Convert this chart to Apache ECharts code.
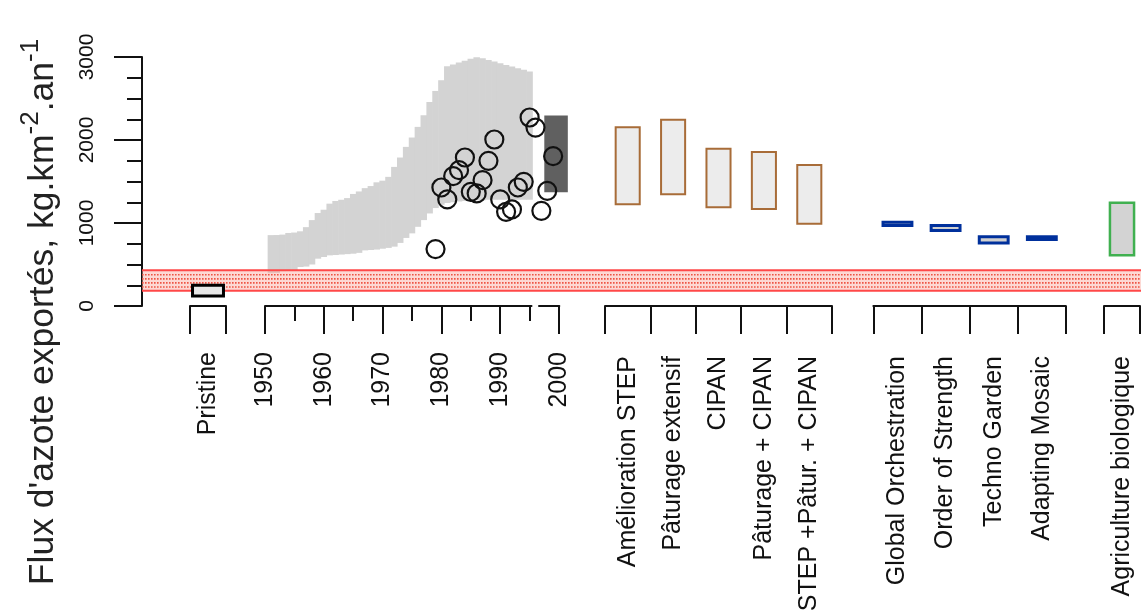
<!DOCTYPE html>
<html>
<head>
<meta charset="utf-8">
<script src="https://cdn.jsdelivr.net/npm/echarts@6/dist/echarts.min.js"></script>
<style>
  html, body { margin: 0; padding: 0; background: #ffffff; }
  #chart { width: 1141px; height: 615px; }
</style>
</head>
<body>
<div id="chart"></div>
<script>
// Nitrogen export fluxes (kg N / km2 / yr): pristine state, 1950-2000 reconstruction,
// management scenarios, MEA scenarios and organic farming.

const yTickValues = [0, 1000, 2000, 3000];

const pristineLabels = ['Pristine'];
const pristineLow = [120];
const pristineHigh = [250];

// reference band drawn across the whole plot
const bandLow = 185;
const bandHigh = 430;

// yearly envelope of the reconstructed fluxes
const historyYears = [1951, 1952, 1953, 1954, 1955, 1956, 1957, 1958, 1959, 1960,
  1961, 1962, 1963, 1964, 1965, 1966, 1967, 1968, 1969, 1970,
  1971, 1972, 1973, 1974, 1975, 1976, 1977, 1978, 1979, 1980,
  1981, 1982, 1983, 1984, 1985, 1986, 1987, 1988, 1989, 1990,
  1991, 1992, 1993, 1994, 1995];
const historyLow = [395, 398, 420, 425, 430, 470, 475, 500, 570, 590,
  610, 614, 620, 625, 630, 640, 670, 675, 680, 690,
  700, 715, 760, 820, 875, 954, 1035, 1115, 1180, 1220,
  1240, 1250, 1260, 1265, 1270, 1275, 1275, 1280, 1280, 1280,
  1280, 1280, 1280, 1280, 1280];
const historyHigh = [854, 855, 860, 880, 885, 900, 950, 1035, 1120, 1160,
  1233, 1265, 1280, 1300, 1350, 1380, 1420, 1445, 1490, 1510,
  1556, 1676, 1789, 1917, 2030, 2158, 2298, 2458, 2591, 2720,
  2888, 2910, 2935, 2955, 2978, 2998, 2985, 2965, 2945, 2925,
  2905, 2885, 2865, 2845, 2825];

// measured yearly fluxes
const obsYears = [1979, 1980, 1981, 1982, 1983, 1984, 1985, 1986, 1987, 1988,
  1989, 1990, 1991, 1992, 1993, 1994, 1995, 1996, 1997, 1998, 1999];
const obsValues = [686, 1428, 1284, 1564, 1637, 1789, 1376, 1356, 1516, 1749,
  2006, 1284, 1135, 1163, 1428, 1496, 2271, 2150, 1147, 1388, 1805];

// range around the year 2000
const year2000Low = 1370;
const year2000High = 2295;

const historyTickYears = [1950, 1960, 1970, 1980, 1990, 2000];

const managementLabels = ['Amélioration STEP', 'Pâturage extensif', 'CIPAN',
  'Pâturage + CIPAN', 'STEP +Pâtur. + CIPAN'];
const managementLow = [1225, 1345, 1190, 1170, 990];
const managementHigh = [2155, 2245, 1895, 1855, 1700];

const meaLabels = ['Global Orchestration', 'Order of Strength', 'Techno Garden', 'Adapting Mosaic'];
const meaLow = [970, 910, 760, 800];
const meaHigh = [1010, 970, 835, 835];

const organicLabels = ['Agriculture biologique'];
const organicLow = [610];
const organicHigh = [1245];

const FONT = '"Liberation Sans", Arial, sans-serif';
const INK = '#111111';
const TOP = 57;
const H = 249;
const LABEL_SIZE = 25;

const chart = echarts.init(document.getElementById('chart'), null, { renderer: 'canvas' });

function grid(left, width) {
  return { left: left, width: width, top: TOP, height: H, containLabel: false };
}

function hiddenY(gridIndex) {
  return { type: 'value', gridIndex: gridIndex, min: 0, max: 3000, show: false };
}

function categoryX(gridIndex, labels, margin) {
  return {
    type: 'category', gridIndex: gridIndex, data: labels, boundaryGap: true,
    axisLine: { show: true, lineStyle: { color: INK, width: 2 } },
    axisTick: { show: true, length: 28, interval: 0, lineStyle: { color: INK, width: 2 } },
    axisLabel: { show: true, rotate: 90, interval: 0, margin: margin, fontSize: LABEL_SIZE,
      fontFamily: FONT, color: INK },
    splitLine: { show: false }
  };
}

function boxSeries(xi, yi, lows, highs, ratio, stroke, fill, lineWidth, z) {
  return {
    type: 'custom', xAxisIndex: xi, yAxisIndex: yi, z: z, clip: false, silent: true,
    data: lows.map(function (lo, i) { return [i, lo, highs[i]]; }),
    encode: { x: 0, y: [1, 2] },
    renderItem: function (params, api) {
      const i = api.value(0);
      const p1 = api.coord([i, api.value(2)]);
      const p0 = api.coord([i, api.value(1)]);
      const w = api.size([1, 0])[0] * ratio;
      return {
        type: 'rect',
        shape: { x: p1[0] - w / 2, y: p1[1], width: w, height: p0[1] - p1[1] },
        style: { fill: fill, stroke: stroke, lineWidth: lineWidth }
      };
    }
  };
}

const option = {
  animation: false,
  backgroundColor: '#ffffff',
  grid: [
    grid(142, 999),        // 0 main plot, y axis and band
    grid(190, 36),         // 1 pristine
    grid(265, 294),        // 2 history 1950-2000
    grid(265, 266.5),      // 3 history axis line, first part
    grid(539, 20.3),       // 4 history axis line, last part
    grid(605, 227),        // 5 management scenarios
    grid(873.4, 192.5),    // 6 MEA scenarios
    grid(1104, 36)         // 7 organic farming
  ],
  yAxis: [
    {
      type: 'value', gridIndex: 0, min: 0, max: 3000, interval: 1000,
      axisLine: { show: true, lineStyle: { color: INK, width: 2 } },
      axisTick: { show: true, length: 28, lineStyle: { color: INK, width: 2 } },
      minorTick: { show: true, splitNumber: 4, length: 15, lineStyle: { color: INK, width: 2 } },
      axisLabel: { show: true, rotate: 90, margin: 44, fontSize: 21, fontFamily: FONT, color: INK,
        formatter: function (v) { return yTickValues.indexOf(v) >= 0 ? String(v) : ''; } },
      splitLine: { show: false }
    },
    hiddenY(1), hiddenY(2), hiddenY(3), hiddenY(4), hiddenY(5), hiddenY(6), hiddenY(7)
  ],
  xAxis: [
    { type: 'value', gridIndex: 0, min: 0, max: 1, show: false },
    categoryX(1, pristineLabels, 46),
    {
      type: 'value', gridIndex: 2, min: historyTickYears[0], max: historyTickYears[historyTickYears.length - 1],
      interval: 10,
      axisLine: { show: false },
      axisTick: { show: true, length: 28, lineStyle: { color: INK, width: 2 } },
      minorTick: { show: true, splitNumber: 2, length: 15, lineStyle: { color: INK, width: 2 } },
      axisLabel: { show: true, rotate: 90, margin: 46, fontSize: LABEL_SIZE, fontFamily: FONT, color: INK,
        formatter: function (v) { return String(v); } },
      splitLine: { show: false }
    },
    { type: 'value', gridIndex: 3, min: 0, max: 1, axisLine: { show: true, lineStyle: { color: INK, width: 2 } },
      axisTick: { show: false }, axisLabel: { show: false }, splitLine: { show: false } },
    { type: 'value', gridIndex: 4, min: 0, max: 1, axisLine: { show: true, lineStyle: { color: INK, width: 2 } },
      axisTick: { show: false }, axisLabel: { show: false }, splitLine: { show: false } },
    categoryX(5, managementLabels, 50),
    categoryX(6, meaLabels, 50),
    categoryX(7, organicLabels, 50)
  ],
  graphic: [{
    type: 'text', x: 43, y: 312, rotation: Math.PI / 2, silent: true,
    style: {
      text: "Flux d'azote exportés, kg.km{sup|-2}.an{sup|-1}",
      fontSize: 35.5, fontFamily: FONT, fill: '#222',
      align: 'center', verticalAlign: 'middle', textAlign: 'center', textVerticalAlign: 'middle',
      rich: { sup: { fontSize: 26, fontFamily: FONT, fill: '#222', verticalAlign: 'top', lineHeight: 50 } }
    }
  }],
  series: [
    // envelope of the reconstruction, one column per year
    {
      type: 'custom', xAxisIndex: 2, yAxisIndex: 2, z: 1, clip: false, silent: true,
      data: historyYears.map(function (y, i) { return [y, historyLow[i], historyHigh[i]]; }),
      encode: { x: 0, y: [1, 2] },
      renderItem: function (params, api) {
        const yr = api.value(0);
        const a = api.coord([yr - 0.5, api.value(2)]);
        const b = api.coord([yr + 0.5, api.value(1)]);
        return {
          type: 'rect',
          shape: { x: a[0] - 0.3, y: a[1], width: b[0] - a[0] + 0.6, height: b[1] - a[1] },
          style: { fill: '#d3d3d3' }
        };
      }
    },
    // range around 2000
    {
      type: 'custom', xAxisIndex: 2, yAxisIndex: 2, z: 2, clip: false, silent: true,
      data: [[1999.5, year2000Low, year2000High]],
      encode: { x: 0, y: [1, 2] },
      renderItem: function (params, api) {
        const c = api.value(0);
        const a = api.coord([c - 2, api.value(2)]);
        const b = api.coord([c + 2, api.value(1)]);
        return {
          type: 'rect',
          shape: { x: a[0], y: a[1], width: b[0] - a[0], height: b[1] - a[1] },
          style: { fill: '#606060' }
        };
      }
    },
    // reference band
    {
      type: 'custom', xAxisIndex: 0, yAxisIndex: 0, z: 3, clip: false, silent: true,
      data: [[0, bandLow, bandHigh]],
      renderItem: function (params, api) {
        const cs = params.coordSys;
        const yTop = api.coord([0, api.value(2)])[1];
        const yBot = api.coord([0, api.value(1)])[1];
        const x0 = cs.x, x1 = cs.x + cs.width;
        const kids = [{
          type: 'rect', shape: { x: x0, y: yTop, width: x1 - x0, height: yBot - yTop },
          style: { fill: 'rgba(250, 170, 160, 0.45)' }
        }];
        [0.22, 0.42, 0.62, 0.82].forEach(function (f) {
          const yy = yTop + (yBot - yTop) * f;
          kids.push({ type: 'line', shape: { x1: x0, y1: yy, x2: x1, y2: yy },
            style: { stroke: '#ee5545', lineWidth: 1.6, lineDash: [1.6, 1.4] } });
        });
        kids.push({ type: 'line', shape: { x1: x0, y1: yTop, x2: x1, y2: yTop },
          style: { stroke: '#ff4848', lineWidth: 2 } });
        kids.push({ type: 'line', shape: { x1: x0, y1: yBot, x2: x1, y2: yBot },
          style: { stroke: '#ff4848', lineWidth: 2 } });
        return { type: 'group', children: kids };
      }
    },
    // measured yearly values
    {
      type: 'scatter', xAxisIndex: 2, yAxisIndex: 2, z: 5, silent: true,
      symbol: 'circle', symbolSize: 18,
      itemStyle: { color: 'rgba(0,0,0,0)', borderColor: INK, borderWidth: 2.2, opacity: 1 },
      data: obsYears.map(function (y, i) { return [y, obsValues[i]]; })
    },
    boxSeries(1, 1, pristineLow, pristineHigh, 0.86, '#000000', '#e8e8e8', 3, 4),
    boxSeries(5, 5, managementLow, managementHigh, 0.53, '#a86c38', '#ececec', 2, 4),
    boxSeries(6, 6, meaLow, meaHigh, 0.6, '#00309c', '#d0d0d0', 3, 4),
    boxSeries(7, 7, organicLow, organicHigh, 0.67, '#40b050', '#d3d3d3', 2.5, 4)
  ]
};

chart.setOption(option);
</script>
</body>
</html>
